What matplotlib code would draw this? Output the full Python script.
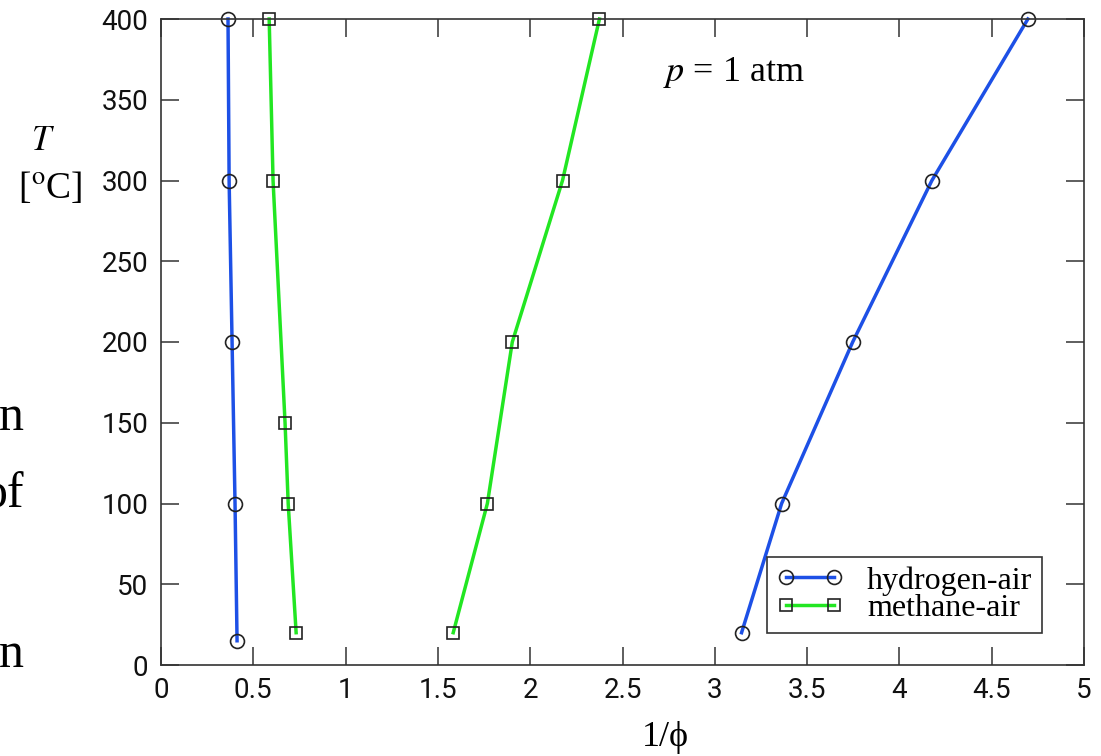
import matplotlib
matplotlib.use("Agg")
import matplotlib.pyplot as plt
from matplotlib.lines import Line2D

# flammability limits vs initial temperature, p = 1 atm
H2_LEAN_X = [0.363, 0.369, 0.385, 0.401, 0.412]
H2_LEAN_T = [400, 300, 200, 100, 15]
H2_RICH_X = [3.145, 3.362, 3.747, 4.176, 4.696]
H2_RICH_T = [20, 100, 200, 300, 400]
CH4_LEAN_X = [0.586, 0.607, 0.672, 0.689, 0.732]
CH4_LEAN_T = [400, 300, 150, 100, 20]
CH4_RICH_X = [1.583, 1.768, 1.903, 2.175, 2.375]
CH4_RICH_T = [20, 100, 200, 300, 400]

X_TICKS = [0, 0.5, 1, 1.5, 2, 2.5, 3, 3.5, 4, 4.5, 5]
X_LABELS = ["0", "0.5", "1", "1.5", "2", "2.5", "3", "3.5", "4", "4.5", "5"]
Y_TICKS = [0, 50, 100, 150, 200, 250, 300, 350, 400]

BLUE, GREEN, INK = "#1d50e6", "#22e622", "#333333"
SERIF = ["Liberation Serif", "DejaVu Serif"]

fig = plt.figure(figsize=(11.01, 7.56), dpi=100)
ax = fig.add_axes([161 / 1101, 1 - 665 / 756, (1084 - 161) / 1101, (665 - 19) / 756])

h2 = dict(color=BLUE, lw=2.5, marker="o", ms=10, mfc="none", mec="#222", mew=1.2)
ch4 = dict(color=GREEN, lw=2.5, marker="s", ms=9, mfc="none", mec="#222", mew=1.2)
ax.plot(H2_LEAN_X, H2_LEAN_T, clip_on=False, **h2)
ax.plot(H2_RICH_X, H2_RICH_T, clip_on=False, **h2)
ax.plot(CH4_LEAN_X, CH4_LEAN_T, clip_on=False, **ch4)
ax.plot(CH4_RICH_X, CH4_RICH_T, clip_on=False, **ch4)

ax.set_xlim(0, 5)
ax.set_ylim(0, 400)
ax.set_xticks(X_TICKS)
ax.set_xticklabels(X_LABELS)
ax.set_yticks(Y_TICKS)
for s in ax.spines.values():
    s.set_linewidth(1.2)
    s.set_color(INK)
ax.tick_params(direction="in", length=13, width=1.1, color=INK, top=True, right=True,
               labelsize=20, labelcolor="#111")
ax.tick_params(axis="x", pad=9)
ax.tick_params(axis="y", pad=9)
for lab in ax.get_xticklabels() + ax.get_yticklabels():
    lab.set_family(["Roboto", "DejaVu Sans"])

# legend
handles = [Line2D([], [], **h2), Line2D([], [], **ch4)]
leg = ax.legend(handles, ["hydrogen-air", "methane-air"], loc="lower right",
                bbox_to_anchor=(1042 / 1101, 1 - 633 / 756), bbox_transform=fig.transFigure,
                prop={"family": SERIF, "size": 23}, fancybox=False, framealpha=1,
                edgecolor=INK, labelspacing=-0.05, numpoints=2, handlelength=2.1,
                borderpad=0.3, handletextpad=0.75, borderaxespad=0)
leg.get_frame().set_linewidth(1.2)

ax.text(663 / 1101, 1 - 72 / 756, "$p$ = 1 atm", transform=fig.transFigure,
        ha="left", va="center", fontsize=26, family=SERIF, math_fontfamily="stix")

fig.text(43 / 1101, 1 - 141 / 756, "$T$", ha="center", va="center", fontsize=25,
         family=SERIF, math_fontfamily="stix")
fig.text(50 / 1101, 1 - 188 / 756, "[$^{\\mathrm{o}}$C]", ha="center", va="center",
         fontsize=27, family=SERIF, math_fontfamily="stix")
fig.text(665 / 1101, 1 - 737 / 756, "1/ϕ", ha="center", va="center", fontsize=26,
         family=SERIF)

# slide text cut off at the left edge
for y, s in [(430, "n"), (507, "of"), (667, "n")]:
    fig.text(24 / 1101, 1 - y / 756, s, ha="right", va="baseline", fontsize=36,
             family=SERIF)

fig.savefig("out.png", dpi=100)
